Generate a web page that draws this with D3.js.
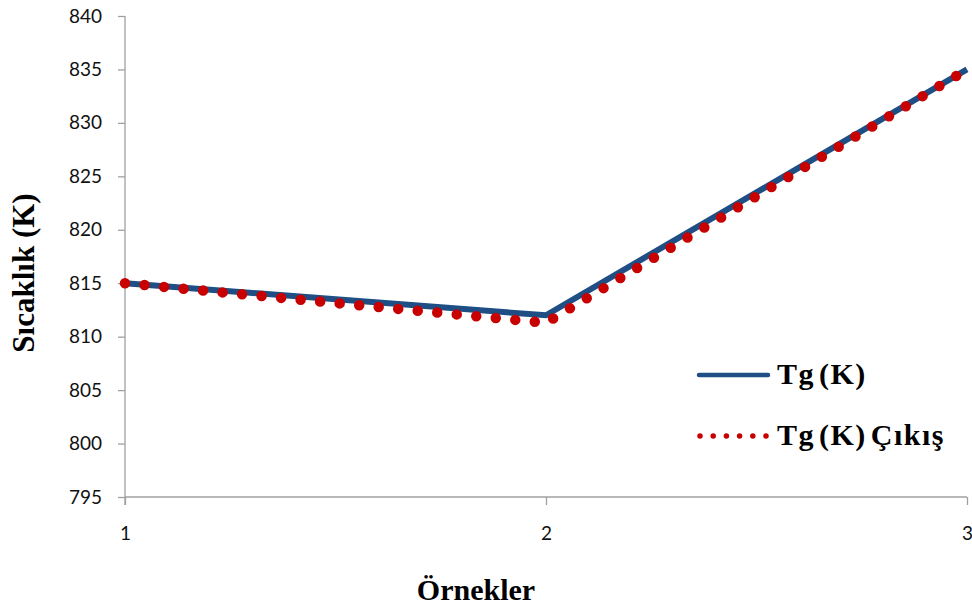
<!DOCTYPE html>
<html>
<head>
<meta charset="utf-8">
<script src="https://cdn.jsdelivr.net/npm/d3@7"></script>
<style>
  html, body { margin: 0; padding: 0; background: #fff; }
  svg { display: block; }
</style>
</head>
<body>
<script>
const categories = [1, 2, 3];
const tgValues = [815, 812, 835];
const tgOutValues = [815, 811.3, 835];
const yTickValues = [795, 800, 805, 810, 815, 820, 825, 830, 835, 840];
const seriesNames = ["Tg (K)", "Tg (K) Çıkış"];
const xTitle = "Örnekler";
const yTitle = "Sıcaklık (K)";

const W = 972, H = 610;
const svg = d3.select("body").append("svg").attr("width", W).attr("height", H);

const x = d3.scaleLinear().domain([1, 3]).range([125, 967]);
const y = d3.scaleLinear().domain([795, 840]).range([497, 16]);

const axisColor = "#a0a0a0";
const tickFont = "Lato, 'Open Sans', sans-serif";
const serif = "'Liberation Serif', 'Times New Roman', serif";

// Y axis
const yAxis = svg.append("g").attr("transform", `translate(${x(1)},0)`)
  .call(d3.axisLeft(y).tickValues(yTickValues).tickSize(7).tickPadding(16).tickFormat(d3.format("d")));
yAxis.select(".domain").attr("stroke", axisColor).attr("stroke-width", 1.3)
  .attr("d", `M0,${y(840)}V${y(795) + 8}`);
yAxis.selectAll(".tick line").attr("stroke", axisColor).attr("stroke-width", 1.3);
yAxis.selectAll(".tick text").attr("font-family", tickFont).attr("font-size", 19).attr("fill", "#111");

// X axis
const xAxis = svg.append("g").attr("transform", `translate(0,${y(795)})`)
  .call(d3.axisBottom(x).tickValues(categories).tickSize(8).tickPadding(22).tickFormat(d3.format("d")));
xAxis.select(".domain").attr("stroke", axisColor).attr("stroke-width", 1.3)
  .attr("d", `M${x(1)},0H${x(3)}`);
xAxis.selectAll(".tick line").attr("stroke", axisColor).attr("stroke-width", 1.3);
xAxis.selectAll(".tick text").attr("font-family", tickFont).attr("font-size", 19).attr("fill", "#111");

// Lines
const line = d3.line().x((d, i) => x(categories[i])).y(d => y(d));
svg.append("path").datum(tgValues).attr("d", line)
  .attr("fill", "none").attr("stroke", "#1f4e85").attr("stroke-width", 6)
  .attr("stroke-linejoin", "miter");
svg.append("path").datum(tgOutValues).attr("d", line)
  .attr("fill", "none").attr("stroke", "#c80000").attr("stroke-width", 10.5)
  .attr("stroke-linecap", "round").attr("stroke-dasharray", "0,19.6");

// Titles
svg.append("text").attr("x", 476).attr("y", 600).attr("text-anchor", "middle")
  .attr("font-family", serif).attr("font-weight", "bold").attr("font-size", 30).attr("fill", "#000")
  .text(xTitle);
svg.append("text").attr("transform", "translate(34,273) rotate(-90)").attr("text-anchor", "middle")
  .attr("font-family", serif).attr("font-weight", "bold").attr("font-size", 31).attr("fill", "#000")
  .text(yTitle);

// Legend
const leg = svg.append("g");
leg.append("line").attr("x1", 699).attr("x2", 768).attr("y1", 375).attr("y2", 375)
  .attr("stroke", "#1f4e85").attr("stroke-width", 4.5).attr("stroke-linecap", "round");
leg.append("line").attr("x1", 700).attr("x2", 766).attr("y1", 436).attr("y2", 436)
  .attr("stroke", "#c80000").attr("stroke-width", 5.5).attr("stroke-linecap", "round")
  .attr("stroke-dasharray", "0,13.2");
leg.append("text").attr("x", 777).attr("y", 384)
  .attr("font-family", serif).attr("font-weight", "bold").attr("font-size", 30).attr("fill", "#000")
  .attr("letter-spacing", 1.5).attr("word-spacing", -5)
  .text(seriesNames[0]);
leg.append("text").attr("x", 777).attr("y", 445)
  .attr("font-family", serif).attr("font-weight", "bold").attr("font-size", 30).attr("fill", "#000")
  .attr("letter-spacing", 1.5).attr("word-spacing", -5)
  .text(seriesNames[1]);
</script>
</body>
</html>
